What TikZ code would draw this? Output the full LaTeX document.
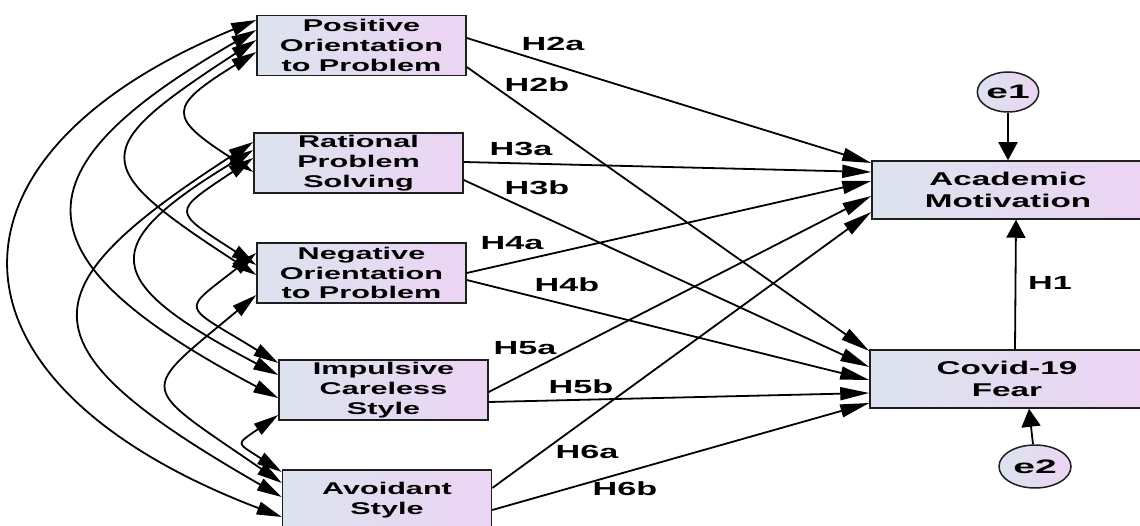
\documentclass[tikz,border=0pt]{standalone}
\usepackage{fontspec}
\newfontfamily\boxfont{Liberation Sans}[FakeStretch=1.8]
\newfontfamily\errfont{Liberation Sans}[FakeStretch=2.0]
\usetikzlibrary{arrows.meta,shapes.geometric}
\definecolor{boxL}{RGB}{220,227,238}
\definecolor{boxR}{RGB}{236,212,244}
\definecolor{edgec}{RGB}{30,30,30}
\tikzset{
  var/.style={draw=edgec, line width=1.5pt, left color=boxL, right color=boxR,
    minimum width=209pt, minimum height=60pt, inner sep=0pt, align=center,
    font=\boxfont\bfseries\fontsize{17}{19.7}\selectfont},
  dvar/.style={var, font=\boxfont\bfseries\fontsize{18.5}{22}\selectfont},
  err/.style={ellipse, draw=edgec, line width=1.5pt, left color=boxL, right color=boxR,
    minimum width=60pt, minimum height=40pt, inner sep=0pt,
    font=\errfont\bfseries\fontsize{19.5}{22}\selectfont},
  regpath/.style={-{Triangle[length=29pt,width=13pt]}, line width=1.8pt},
  vpath/.style={-{Triangle[length=18pt,width=19pt]}, line width=1.8pt},
  cov/.style={{Triangle[length=25pt,width=13pt]}-{Triangle[length=25pt,width=13pt]}, line width=1.8pt},
  hlab/.style={font=\boxfont\bfseries\fontsize{19}{22}\selectfont, inner sep=0pt}
}
\begin{document}
\begin{tikzpicture}[x=1pt, y=-1pt]
\path[use as bounding box, fill=white] (0,0) rectangle (1140,526);

% exogenous variables
\node[var] (pos) at (361.5,45.5) {Positive\\Orientation\\to Problem};
\node[var] (rat) at (358.5,163) {Rational\\Problem\\Solving};
\node[var] (neg) at (361.5,273) {Negative\\Orientation\\to Problem};
\node[var] (imp) at (383.5,390) {Impulsive\\Careless\\Style};
\node[var] (avo) at (387,500) {Avoidant\\Style};

% endogenous variables
\node[dvar, minimum width=272pt, minimum height=58pt] (am) at (1008,190) {Academic\\Motivation};
\node[dvar, minimum width=274pt, minimum height=58pt] (cf) at (1007,379) {Covid-19\\Fear};

% errors
\node[err] (e1) at (1008,92) {e1};
\node[err, minimum width=72pt, minimum height=43pt] (e2) at (1035,466.5) {e2};

% regression paths
\draw[regpath] ([shift={(0,-7.5)}]pos.east) -- ([shift={(0,-27)}]am.west);
\draw[regpath] ([shift={(0,21.5)}]pos.east) -- ([shift={(0,-28)}]cf.west);
\draw[regpath] ([shift={(0,-1)}]rat.east) -- ([shift={(0,-18)}]am.west);
\draw[regpath] ([shift={(0,17)}]rat.east) -- ([shift={(0,-12)}]cf.west);
\draw[regpath] (neg.east) -- ([shift={(0,-9)}]am.west);
\draw[regpath] ([shift={(0,7)}]neg.east) -- ([shift={(0,1)}]cf.west);
\draw[regpath] ([shift={(0,2)}]imp.east) -- ([shift={(0,6)}]am.west);
\draw[regpath] ([shift={(0,12)}]imp.east) -- ([shift={(0,14)}]cf.west);
\draw[regpath] ([shift={(0,-12)}]avo.east) -- ([shift={(0,22)}]am.west);
\draw[regpath] ([shift={(0,10)}]avo.east) -- ([shift={(0,24)}]cf.west);

\draw[vpath] ([shift={(8,0)}]cf.north) -- ([shift={(8,0)}]am.south);
\draw[vpath] (e1.south) -- (am.north);
\draw[vpath] ([shift={(-2,0)}]e2.north) -- ([shift={(22,0)}]cf.south);

% labels
\node[hlab] (h2a) at (553,43.5) {H2a};
\node[hlab] (h2b) at (537,85) {H2b};
\node[hlab] (h3a) at (521,149) {H3a};
\node[hlab] (h3b) at (537,188) {H3b};
\node[hlab] (h4a) at (512,243) {H4a};
\node[hlab] (h4b) at (567,285) {H4b};
\node[hlab] (h5a) at (525,348) {H5a};
\node[hlab] (h5b) at (581,387) {H5b};
\node[hlab] (h6a) at (587,452) {H6a};
\node[hlab] (h6b) at (625,489) {H6b};
\node[hlab] (h1) at (1050,283) {H1};

% covariances
\draw[cov] ([shift={(0,6.5)}]pos.west) .. controls +(-89,55) and +(-86,-55) .. ([shift={(0,9)}]rat.west);
\draw[cov] ([shift={(0,-5.5)}]pos.west) .. controls +(-169,110) and +(-169,-110) .. ([shift={(0,2)}]neg.west);
\draw[cov] ([shift={(0,-15.5)}]pos.west) .. controls +(-244,140) and +(-266,-140) .. ([shift={(0,8)}]imp.west);
\draw[cov] ([shift={(0,-25.5)}]pos.west) .. controls +(-329,135) and +(-354,-135) .. ([shift={(0,17)}]avo.west);
\draw[cov] ([shift={(0,-5)}]rat.west) .. controls +(-82,55) and +(-85,-55) .. ([shift={(0,-8)}]neg.west);
\draw[cov] ([shift={(0,-13)}]rat.west) .. controls +(-156,95) and +(-181,-95) .. ([shift={(0,-15)}]imp.west);
\draw[cov] ([shift={(0,-21)}]rat.west) .. controls +(-233,150) and +(-261,-150) .. ([shift={(0,-3)}]avo.west);
\draw[cov] ([shift={(0,-20)}]neg.west) .. controls +(-76,60) and +(-98,-60) .. ([shift={(0,-27)}]imp.west);
\draw[cov] ([shift={(0,22)}]neg.west) .. controls +(-120,100) and +(-145,-100) .. ([shift={(0,-17)}]avo.west);
\draw[cov] ([shift={(0,25)}]imp.west) .. controls +(-43,30) and +(-46,-30) .. ([shift={(0,-28)}]avo.west);
\end{tikzpicture}
\end{document}
